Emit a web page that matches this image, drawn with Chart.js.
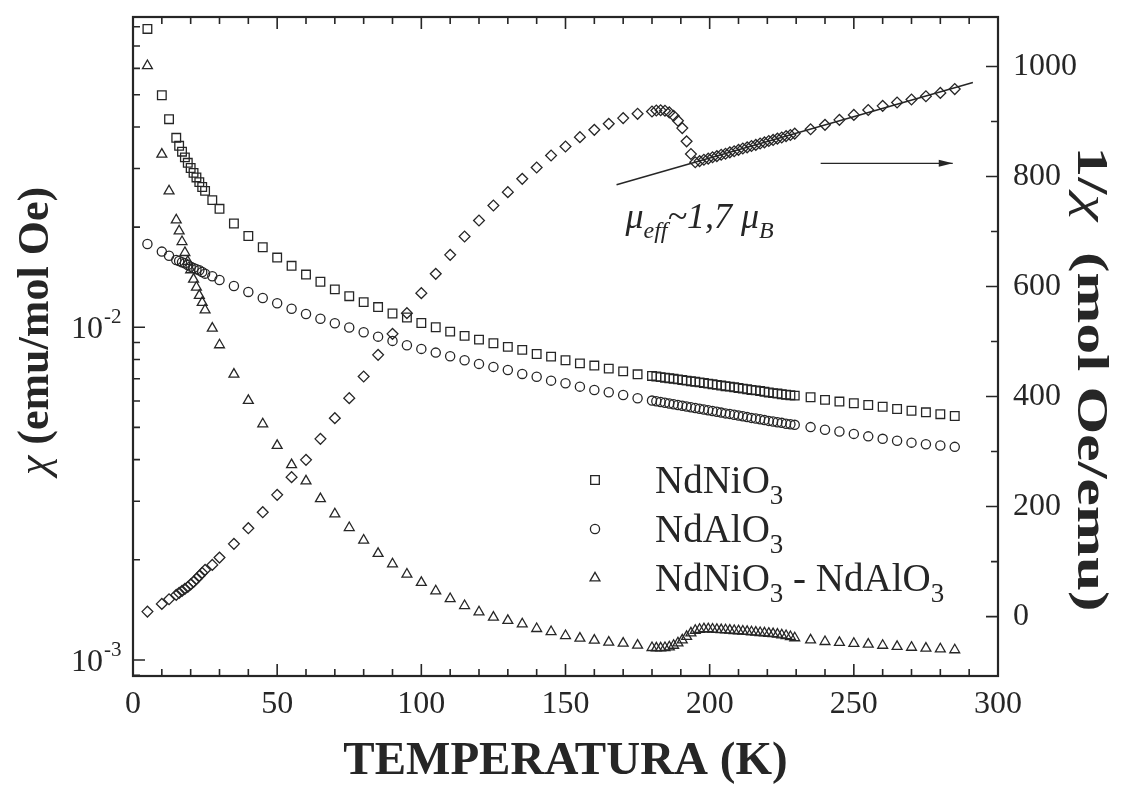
<!DOCTYPE html>
<html>
<head>
<meta charset="utf-8">
<script src="https://cdn.jsdelivr.net/npm/chart.js@4.4.0/dist/chart.umd.min.js"></script>
<style>
  html, body { margin: 0; padding: 0; background: #ffffff; }
  #wrap { width: 1125px; height: 790px; }
</style>
</head>
<body>
<div id="wrap"><canvas id="chart" width="1125" height="790"></canvas></div>
<script>
// Measurement temperatures (K), shared by all four curves
const temperatures = [5, 10, 12.5, 15, 16, 17, 18, 19, 20, 21, 22, 23, 24, 25, 27.5, 30,
  35, 40, 45, 50, 55, 60, 65, 70, 75, 80, 85, 90, 95, 100, 105, 110, 115, 120, 125, 130,
  135, 140, 145, 150, 155, 160, 165, 170, 175,
  180, 181.5, 183, 184.5, 186, 187.5, 189, 190.5, 192, 193.5, 195, 196.5, 198, 199.5, 201,
  202.5, 204, 205.5, 207, 208.5, 210, 211.5, 213, 214.5, 216, 217.5, 219, 220.5, 222, 223.5,
  225, 226.5, 228, 229.5,
  235, 240, 245, 250, 255, 260, 265, 270, 275, 280, 285];

// Susceptibility of NdNiO3 (emu/mol Oe)
const chiNdNiO3 = [0.0788, 0.0498, 0.0422, 0.0371, 0.0351, 0.0337, 0.0324, 0.0312, 0.0301, 0.0291,
  0.0282, 0.0273, 0.0264, 0.0257, 0.0241, 0.0227,
  0.0205, 0.0188, 0.0174, 0.0162, 0.0153, 0.0144, 0.0137, 0.0130, 0.0124, 0.0119, 0.0115, 0.0110,
  0.0107, 0.0103, 0.0100, 0.0097, 0.00942, 0.00918, 0.00895, 0.00873, 0.00855, 0.00831, 0.00816,
  0.00796, 0.00779, 0.00767, 0.00751, 0.00737, 0.00722,
  0.00714, 0.00711, 0.00708, 0.00705, 0.00703, 0.00700, 0.00697, 0.00694, 0.00691, 0.00688,
  0.00686, 0.00683, 0.00680, 0.00677, 0.00674, 0.00671, 0.00668, 0.00665, 0.00663, 0.00660,
  0.00657, 0.00654, 0.00651, 0.00648, 0.00646, 0.00643, 0.00640, 0.00637, 0.00634, 0.00632,
  0.00629, 0.00627, 0.00625, 0.00623,
  0.00616, 0.00605, 0.00598, 0.00591, 0.00584, 0.00577, 0.00568, 0.00561, 0.00555, 0.00548, 0.00541];

// Susceptibility of the NdAlO3 substrate (emu/mol Oe)
const chiNdAlO3 = [0.0178, 0.01688, 0.01641, 0.01593, 0.01582, 0.01568, 0.01557, 0.01539, 0.01521,
  0.01507, 0.01494, 0.01483, 0.01466, 0.01449, 0.01423, 0.01387,
  0.01331, 0.01277, 0.01225, 0.01181, 0.01137, 0.01096, 0.01061, 0.01028, 0.00998, 0.00966, 0.00937,
  0.00910, 0.00883, 0.00861, 0.00839, 0.00818, 0.00796, 0.00776, 0.00760, 0.00744, 0.00724, 0.00710,
  0.00691, 0.00679, 0.00663, 0.00648, 0.00638, 0.00626, 0.00612,
  0.00602, 0.00599, 0.00596, 0.00593, 0.00590, 0.00587, 0.00584, 0.00581, 0.00578, 0.00575,
  0.00572, 0.00569, 0.00566, 0.00563, 0.00560, 0.00557, 0.00554, 0.00551, 0.00549, 0.00546,
  0.00543, 0.00540, 0.00537, 0.00534, 0.00532, 0.00529, 0.00526, 0.00523, 0.00521, 0.00518,
  0.00516, 0.00513, 0.00511, 0.00509,
  0.00501, 0.00492, 0.00486, 0.00478, 0.00470, 0.00462, 0.00456, 0.00450, 0.00445, 0.00441, 0.00437];

// Film contribution: NdNiO3 - NdAlO3 (emu/mol Oe)
const chiDifference = [0.0611, 0.0331, 0.02568, 0.02101, 0.01947, 0.01808, 0.01676, 0.01575, 0.01487,
  0.01394, 0.01319, 0.01245, 0.01186, 0.01127, 0.00993, 0.00885,
  0.00722, 0.00602, 0.00512, 0.00441, 0.00386, 0.00345, 0.00305, 0.002747, 0.002498, 0.00229,
  0.002088, 0.001943, 0.00181, 0.001708, 0.001612, 0.001528, 0.001456, 0.001394, 0.001343,
  0.001313, 0.001283, 0.001242, 0.001216, 0.001183, 0.001162, 0.001146, 0.00113, 0.001122, 0.001107,
  0.001089, 0.001086, 0.001086, 0.001089, 0.001094, 0.001106, 0.001125, 0.001148, 0.001176,
  0.001205, 0.001227, 0.001235, 0.00124, 0.00124, 0.001237, 0.001235, 0.001232, 0.001231,
  0.001228, 0.001225, 0.001223, 0.00122, 0.001217, 0.001214, 0.001211, 0.001208, 0.001205,
  0.001202, 0.001198, 0.001194, 0.001189, 0.001183, 0.001175, 0.001165,
  0.001148, 0.001135, 0.001128, 0.001121, 0.001114, 0.001106, 0.001097, 0.001091, 0.001084,
  0.001079, 0.001072];

// Inverse susceptibility of the film (mol Oe/emu), right axis
const invChiDifference = [9.1, 23.1, 31.6, 39.5, 43.1, 46.7, 50.4, 53.8, 58.5, 63.1, 68.5, 74,
  79.5, 84.9, 94, 107.3,
  132.2, 160.7, 189.8, 221.3, 253.5, 284.9, 323.1, 360.7, 397.1, 436.4, 475.8, 514, 551.6, 588,
  623.1, 657.6, 690.9, 720, 747.3, 771.6, 795.8, 816.4, 838.2, 854.5, 871.6, 884.9, 895.8, 906.2, 914,
  918.2, 920, 920.5, 919.5, 916.5, 910.5, 901.5, 888, 864, 841, 826, 828, 830.5, 832.5, 835, 837,
  839.5, 841.5, 844, 846, 848.5, 851, 853, 855.5, 857.5, 860, 862, 864.5, 866.5, 869, 871, 873.5,
  875.5, 878,
  886, 894, 903, 912, 921, 928.5, 934.5, 940, 946, 952, 959];

// Curie-Weiss fit line and the arrow pointing to the right axis
const fitT = [167.7, 291.3];
const fitInvChi = [785, 971];
const arrowT = [238.5, 284.3];
const arrowInvChi = [824, 824];

// Axis tick labels
const xTickStep = 50;
const rightTickValues = [0, 200, 400, 600, 800, 1000];
const logTickLabels = [{ value: 0.01, base: '10', exp: '-2' }, { value: 0.001, base: '10', exp: '-3' }];

const INK = '#262626';
const SERIF = '"Liberation Serif", "Times New Roman", serif';

// marker shapes and sizes
const MARK = {
  square: { style: 'rect', r: 6.1 },
  circle: { style: 'circle', r: 4.6 },
  triangle: { style: 'triangle', r: 5.7 },
  diamond: { style: 'rectRot', r: 5.4 }
};

const pairs = (xs, ys) => xs.map((x, i) => ({ x: x, y: ys[i] }));

const markerBase = {
  showLine: false,
  borderColor: INK,
  backgroundColor: 'rgba(0,0,0,0)',
  pointBorderWidth: 1.3,
  pointHoverRadius: 0
};

// Keep the plot box exactly where the layout padding puts it
function noLabelPadding(s) {
  s.paddingTop = 0; s.paddingBottom = 0; s.paddingLeft = 0; s.paddingRight = 0;
}

// Inward tick marks, the closed frame and the arrow head
const frameTicks = {
  id: 'frameTicks',
  afterDatasetsDraw(chart) {
    const { ctx, chartArea: a, scales } = chart;
    ctx.save();
    ctx.strokeStyle = INK;
    ctx.lineWidth = 1.6;
    ctx.beginPath();
    for (let t = 10; t < 300; t += 10) {
      const px = scales.x.getPixelForValue(t);
      const len = t % 50 === 0 ? 12 : 7;
      ctx.moveTo(px, a.bottom); ctx.lineTo(px, a.bottom - len);
      ctx.moveTo(px, a.top); ctx.lineTo(px, a.top + len);
    }
    for (let e = -4; e <= -1; e++) {
      for (let m = 1; m <= 9; m++) {
        const v = m * Math.pow(10, e);
        if (v <= scales.y.min || v >= scales.y.max) continue;
        const py = scales.y.getPixelForValue(v);
        const len = m === 1 ? 12 : 7;
        ctx.moveTo(a.left, py); ctx.lineTo(a.left + len, py);
      }
    }
    for (let r = 0; r <= 1000; r += 100) {
      const py = scales.y2.getPixelForValue(r);
      const len = r % 200 === 0 ? 12 : 7;
      ctx.moveTo(a.right, py); ctx.lineTo(a.right - len, py);
    }
    ctx.stroke();
    ctx.lineWidth = 2.2;
    ctx.strokeRect(a.left, a.top, a.right - a.left, a.bottom - a.top);

    const meta = chart.getDatasetMeta(5);
    const tip = meta.data[meta.data.length - 1];
    ctx.fillStyle = INK;
    ctx.beginPath();
    ctx.moveTo(tip.x, tip.y);
    ctx.lineTo(tip.x - 14, tip.y - 3.5);
    ctx.lineTo(tip.x - 14, tip.y + 3.5);
    ctx.closePath();
    ctx.fill();
    ctx.restore();
  }
};

// Draws a chemical formula with subscripted digits
function drawFormula(ctx, text, x, y, size) {
  const parts = text.split(/(\d)/).filter(s => s.length);
  let cx = x;
  for (const p of parts) {
    if (/^\d$/.test(p)) {
      ctx.font = `${Math.round(size * 0.68)}px ${SERIF}`;
      ctx.fillText(p, cx, y + size * 0.27);
    } else {
      ctx.font = `${size}px ${SERIF}`;
      ctx.fillText(p, cx, y);
    }
    cx += ctx.measureText(p).width;
  }
}

// Draws a centred run of [text, font] pieces at the current origin
function drawRun(ctx, pieces, stretchTo) {
  let total = 0;
  const widths = pieces.map(([t, f]) => { ctx.font = f; const w = ctx.measureText(t).width; total += w; return w; });
  if (stretchTo) ctx.scale(stretchTo / total, 1);
  let x = -total / 2;
  ctx.textAlign = 'left';
  ctx.textBaseline = 'alphabetic';
  pieces.forEach(([t, f], i) => { ctx.font = f; ctx.fillText(t, x, 15); x += widths[i]; });
}

const textLayer = {
  id: 'textLayer',
  afterDraw(chart) {
    const { ctx, chartArea: a, scales } = chart;
    ctx.save();
    ctx.fillStyle = INK;
    ctx.textBaseline = 'alphabetic';

    // powers of ten on the log axis
    for (const lab of logTickLabels) {
      const py = scales.y.getPixelForValue(lab.value);
      ctx.font = `32px ${SERIF}`;
      ctx.textAlign = 'right';
      ctx.fillText(lab.base, a.left - 30, py + 11);
      ctx.font = `21px ${SERIF}`;
      ctx.textAlign = 'left';
      ctx.fillText(lab.exp, a.left - 29, py - 4);
    }

    const bold = `bold 44px ${SERIF}`;
    const chi = `italic 44px ${SERIF}`;

    // left axis title
    ctx.save();
    ctx.translate(33, 331);
    ctx.rotate(-Math.PI / 2);
    drawRun(ctx, [['\u03c7', chi], [' (emu/mol Oe)', bold]]);
    ctx.restore();

    // right axis title
    ctx.save();
    ctx.translate(1093, 379);
    ctx.rotate(Math.PI / 2);
    drawRun(ctx, [['1/', bold], ['\u03c7', chi], ['  (mol Oe/emu)', bold]], 465);
    ctx.restore();

    // legend
    const rows = [
      { label: chart.data.datasets[0].label, mark: MARK.square, y: 480 },
      { label: chart.data.datasets[1].label, mark: MARK.circle, y: 529 },
      { label: chart.data.datasets[2].label, mark: MARK.triangle, y: 578 }
    ];
    ctx.textAlign = 'left';
    for (const row of rows) {
      ctx.save();
      ctx.strokeStyle = INK;
      ctx.fillStyle = 'rgba(0,0,0,0)';
      ctx.lineWidth = 1.3;
      Chart.helpers.drawPoint(ctx, { pointStyle: row.mark.style, radius: row.mark.r, borderWidth: 1.3, rotation: 0 }, 595, row.y);
      ctx.restore();
      drawFormula(ctx, row.label, 655, row.y + 13, 39);
    }

    // effective moment annotation
    let ax = scales.x.getPixelForValue(170.8);
    const ay = scales.y2.getPixelForValue(706.5);
    const seg = [['\u03bc', 36, 0], ['eff', 24, 10], ['~1,7 ', 36, 0], ['\u03bc', 36, 0], ['B', 24, 10]];
    for (const [t, s, dy] of seg) {
      ctx.font = `italic ${s}px ${SERIF}`;
      ctx.fillText(t, ax, ay + dy);
      ax += ctx.measureText(t).width;
    }
    ctx.restore();
  }
};

new Chart(document.getElementById('chart'), {
  type: 'scatter',
  data: {
    datasets: [
      Object.assign({ label: 'NdNiO3', data: pairs(temperatures, chiNdNiO3), yAxisID: 'y',
        pointStyle: MARK.square.style, pointRadius: MARK.square.r }, markerBase),
      Object.assign({ label: 'NdAlO3', data: pairs(temperatures, chiNdAlO3), yAxisID: 'y',
        pointStyle: MARK.circle.style, pointRadius: MARK.circle.r }, markerBase),
      Object.assign({ label: 'NdNiO3 - NdAlO3', data: pairs(temperatures, chiDifference), yAxisID: 'y',
        pointStyle: MARK.triangle.style, pointRadius: MARK.triangle.r }, markerBase),
      Object.assign({ label: '1/\u03c7', data: pairs(temperatures, invChiDifference), yAxisID: 'y2',
        pointStyle: MARK.diamond.style, pointRadius: MARK.diamond.r }, markerBase),
      { label: 'fit', data: pairs(fitT, fitInvChi), yAxisID: 'y2', showLine: true,
        borderColor: INK, borderWidth: 1.5, pointRadius: 0, fill: false },
      { label: 'arrow', data: pairs(arrowT, arrowInvChi), yAxisID: 'y2', showLine: true,
        borderColor: INK, borderWidth: 1.3, pointRadius: 0, fill: false }
    ]
  },
  options: {
    responsive: false,
    animation: false,
    events: [],
    layout: { padding: { top: 17, left: 0, right: 0, bottom: 0 } },
    plugins: { legend: { display: false }, tooltip: { enabled: false } },
    scales: {
      x: {
        type: 'linear', position: 'bottom', min: 0, max: 300,
        grid: { display: false, drawTicks: false },
        border: { display: false },
        ticks: { stepSize: xTickStep, autoSkip: false, maxRotation: 0, padding: 9,
          color: INK, font: { family: SERIF, size: 32 } },
        title: { display: true, text: 'TEMPERATURA (K)', color: INK,
          font: { family: SERIF, size: 47, weight: 'bold' }, padding: { top: 0, bottom: 0 } },
        afterFit(s) { s.height = 114; noLabelPadding(s); }
      },
      y: {
        type: 'logarithmic', position: 'left', min: 0.000895, max: 0.0856,
        grid: { display: false, drawTicks: false },
        border: { display: false },
        ticks: { display: false },
        afterFit(s) { s.width = 133; noLabelPadding(s); }
      },
      y2: {
        type: 'linear', position: 'right', min: -108, max: 1090,
        grid: { display: false, drawTicks: false },
        border: { display: false },
        ticks: { padding: 15, color: INK, font: { family: SERIF, size: 32 },
          callback: v => String(v) },
        afterBuildTicks(s) { s.ticks = rightTickValues.map(v => ({ value: v })); },
        afterFit(s) { s.width = 127; noLabelPadding(s); }
      }
    }
  },
  plugins: [frameTicks, textLayer]
});
</script>
</body>
</html>
